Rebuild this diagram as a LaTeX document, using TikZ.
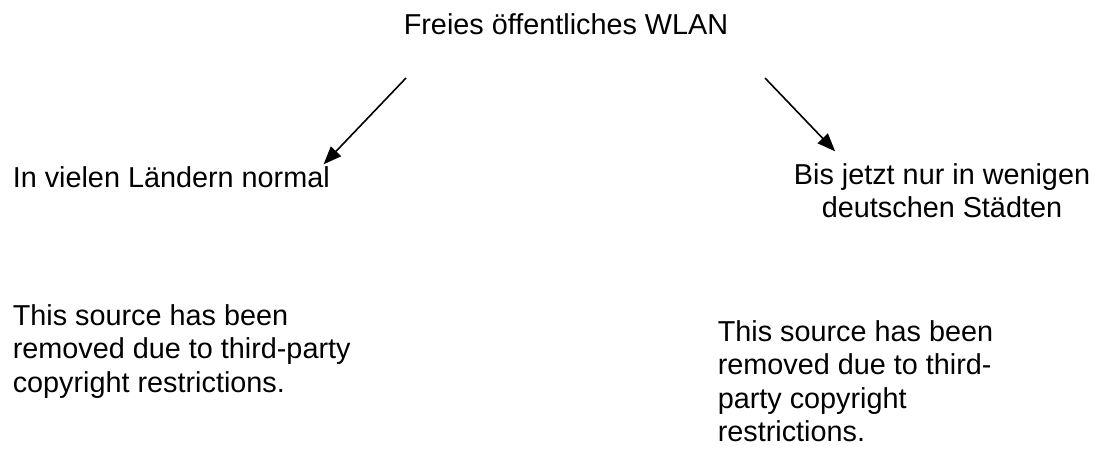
\documentclass[tikz,border=0pt]{standalone}
\usepackage{fontspec}
\setmainfont{Liberation Sans}
\usetikzlibrary{arrows.meta}

\begin{document}
\begin{tikzpicture}[x=1pt, y=-1pt, ->, >={Triangle[length=18pt,width=14pt]},
      line width=1.6pt,
      every node/.append style={inner sep=0pt,font=\fontsize{28.8}{33.5}\selectfont}]
    \tikzstyle{word} = [anchor=base west,align=left,color=black]
    \useasboundingbox (0,0) rectangle (1099,450);
    % multi-line nodes: base is the baseline of the last line
    \node (WLAN) [word] at (403,34) {Freies öffentliches WLAN};
    \node (Laender) [word] at (12,187) {In vielen Ländern normal};
    \node (Staedte) [word,anchor=base,align=center] at (942,217.5)
      {Bis jetzt nur in wenigen\\deutschen Städten};
    \node (QuelleL) [word] at (12,392)
      {This source has been\\removed due to third-party\\copyright restrictions.};
    \node (QuelleR) [word] at (717,441.5)
      {This source has been\\removed due to third-\\party copyright\\restrictions.};
    \coordinate (Lstart) at (406,78);
    \coordinate (Rstart) at (765,78);
    \draw (Lstart) -- ([xshift=-7pt,yshift=1pt]Laender.north east);
    \draw (Rstart) -- ([xshift=42pt,yshift=11pt]Staedte.north west);
  \end{tikzpicture}
\end{document}
